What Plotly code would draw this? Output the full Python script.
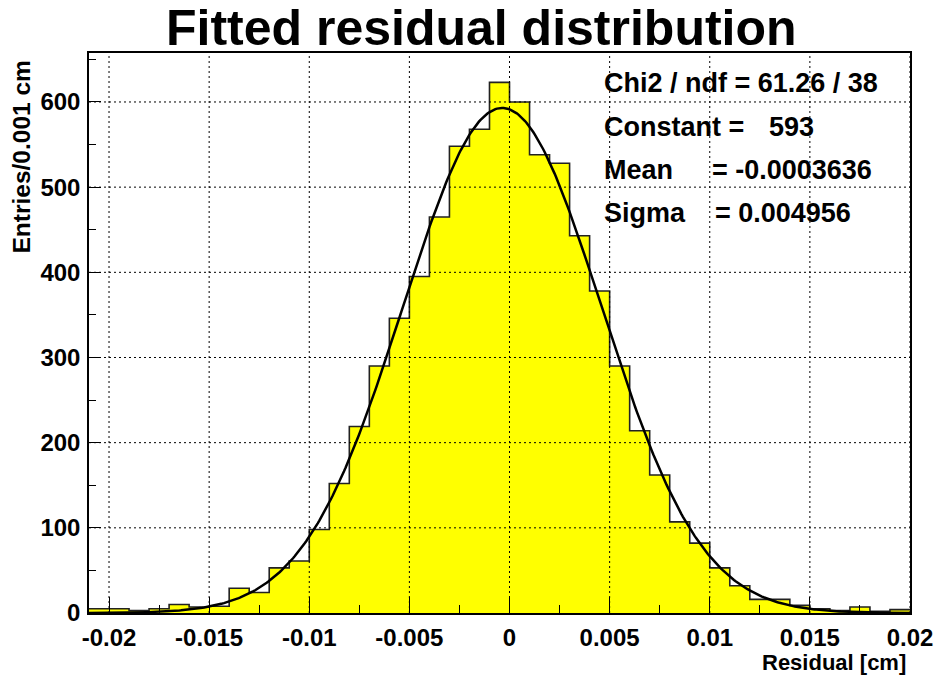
import numpy as np
import plotly.graph_objects as go

# ---------------- data ----------------
bin_low = -0.021
bin_width = 0.001
counts = [5, 5, 3, 5, 10, 7, 8, 29, 24, 53,
          61, 98, 152, 219, 290, 346, 395, 465, 548, 568,
          623, 600, 538, 528, 443, 378, 290, 214, 162, 107,
          82, 53, 32, 16, 16, 9, 5, 3, 7, 2,
          4]

fit_constant = 593.0
fit_mean = -0.0003636
fit_sigma = 0.004956

x_tick_vals = [-0.02, -0.015, -0.01, -0.005, 0.0, 0.005, 0.01, 0.015, 0.02]
x_tick_text = ["-0.02", "-0.015", "-0.01", "-0.005", "0", "0.005", "0.01", "0.015", "0.02"]
y_tick_vals = [0, 100, 200, 300, 400, 500, 600]
y_tick_text = ["0", "100", "200", "300", "400", "500", "600"]

stat_lines = [
    ("Chi2 / ndf = 61.26 / 38", None),
    ("Constant =", "593"),
    ("Mean", "= -0.0003636"),
    ("Sigma", "= 0.004956"),
]

# ---------------- layout geometry ----------------
W, H = 938, 675
ML, MR, MT, MB = 89, 28, 53, 62
PW = W - ML - MR
PH = H - MT - MB
FONT = "Liberation Sans, Arial, Helvetica, sans-serif"


def px(xp):
    return (xp - ML) / PW


def py(yp):
    return (H - MB - yp) / PH


edges = bin_low + bin_width * np.arange(len(counts) + 1)
hist_y = list(counts) + [counts[-1]]

xs = np.linspace(edges[0], edges[-1], 500)
ys = fit_constant * np.exp(-0.5 * ((xs - fit_mean) / fit_sigma) ** 2)

fig = go.Figure()
fig.add_trace(go.Scatter(
    x=edges, y=hist_y, mode="lines", line_shape="hv",
    fill="tozeroy", fillcolor="#ffff00",
    line=dict(color="#222222", width=1.6),
    hoverinfo="skip", showlegend=False,
))
fig.add_trace(go.Scatter(
    x=xs, y=ys, mode="lines",
    line=dict(color="black", width=2.5),
    hoverinfo="skip", showlegend=False,
))

shapes = []
for v in x_tick_vals:
    shapes.append(dict(type="line", xref="x", yref="paper", x0=v, x1=v, y0=0, y1=1,
                       line=dict(color="black", width=1, dash="2px,3px"), layer="above"))
for v in y_tick_vals[1:]:
    shapes.append(dict(type="line", xref="paper", yref="y", x0=0, x1=1, y0=v, y1=v,
                       line=dict(color="black", width=1, dash="2px,3px"), layer="above"))

annotations = [
    dict(text="Fitted residual distribution", xref="paper", yref="paper",
         x=px(481.5), y=py(0), xanchor="center", yanchor="top", showarrow=False,
         borderpad=0, borderwidth=0,
         font=dict(family=FONT, size=50, color="black", weight="bold")),
    dict(text="Entries/0.001 cm", xref="paper", yref="paper", textangle=-90,
         x=px(21), y=py(59), xanchor="center", yanchor="top", showarrow=False,
         font=dict(family=FONT, size=24.5, color="black", weight="bold")),
    dict(text="Residual [cm]", xref="paper", yref="paper",
         x=px(906), y=py(662.8), xanchor="right", yanchor="middle", showarrow=False,
         borderpad=0, borderwidth=0,
         font=dict(family=FONT, size=22, color="black", weight="bold")),
]

stat_y = [83, 127, 170, 213]
value_x = [None, 767, 710, 713]
for (label, value), yv, vx in zip(stat_lines, stat_y, value_x):
    annotations.append(dict(text=label, xref="paper", yref="paper", x=px(602), y=py(yv),
                            xanchor="left", yanchor="middle", showarrow=False,
                            font=dict(family=FONT, size=27, color="black", weight="bold")))
    if value is not None:
        annotations.append(dict(text=value, xref="paper", yref="paper", x=px(vx), y=py(yv),
                                xanchor="left", yanchor="middle", showarrow=False,
                                font=dict(family=FONT, size=27, color="black", weight="bold")))

fig.update_layout(
    width=W, height=H,
    margin=dict(l=ML, r=MR, t=MT, b=MB, pad=0, autoexpand=False),
    paper_bgcolor="white", plot_bgcolor="white",
    showlegend=False,
    shapes=shapes,
    annotations=annotations,
    font=dict(family=FONT, color="black"),
)
fig.update_xaxes(
    range=[bin_low, 0.02], showgrid=False, zeroline=False, automargin=False,
    showline=True, linecolor="black", linewidth=1.5, mirror=True,
    tickmode="array", tickvals=x_tick_vals, ticktext=x_tick_text,
    ticks="inside", ticklen=16, tickwidth=1, tickcolor="black",
    minor=dict(ticks="inside", tickvals=[v + 0.0025 for v in x_tick_vals[:-1]],
               ticklen=8, tickwidth=1, tickcolor="black"),
    tickfont=dict(family=FONT, size=24, color="black", weight="bold"),
    ticklabelstandoff=2,
)
fig.update_yaxes(
    range=[0, 657.5], showgrid=False, zeroline=False, automargin=False,
    showline=True, linecolor="black", linewidth=1.5, mirror=True,
    tickmode="array", tickvals=y_tick_vals, ticktext=y_tick_text,
    ticks="inside", ticklen=12, tickwidth=1, tickcolor="black",
    minor=dict(ticks="inside", tickvals=[v + 50 for v in y_tick_vals],
               ticklen=7, tickwidth=1, tickcolor="black"),
    tickfont=dict(family=FONT, size=24, color="black", weight="bold"),
    ticklabelstandoff=2,
)

fig.write_html("out.html")
